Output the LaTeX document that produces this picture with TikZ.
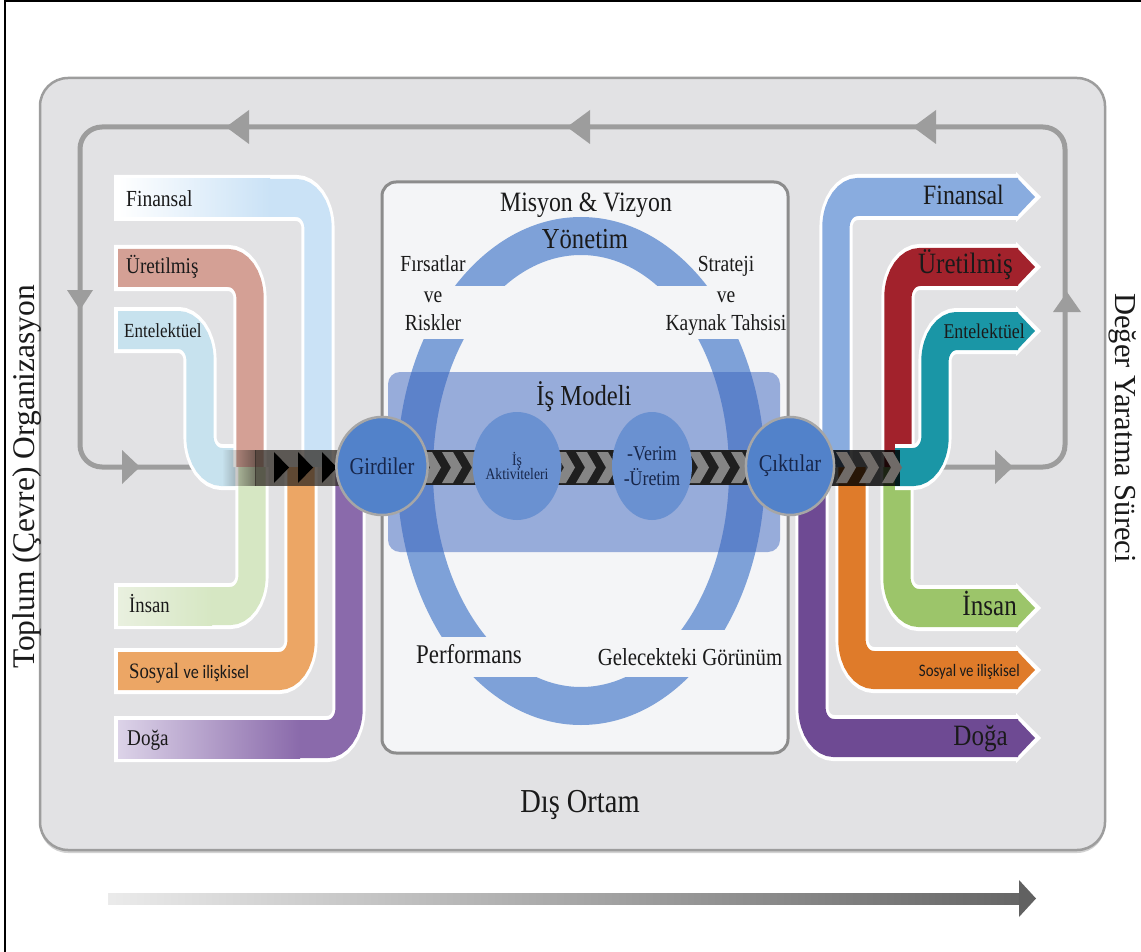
\documentclass[tikz,border=0pt]{standalone}
\usepackage{fontspec}
\setmainfont[FakeStretch=0.85]{Liberation Serif}
\newfontfamily\rotserif{Liberation Serif}
\newfontfamily\sanscal[FakeStretch=0.85]{Carlito}
\usetikzlibrary{fadings,shadows,shapes.geometric}
\newcommand{\fsz}[1]{\fontsize{#1}{#1}\selectfont}
\definecolor{finL}{HTML}{CAE2F6}
\definecolor{uretL}{HTML}{D4A095}
\definecolor{entL}{HTML}{C7E2EE}
\definecolor{insL}{HTML}{D6E7C3}
\definecolor{insLl}{HTML}{E9F0DF}
\definecolor{sosL}{HTML}{ECA665}
\definecolor{dogL}{HTML}{8A6AAB}
\definecolor{dogLl}{HTML}{DCD3E8}
\definecolor{finR}{HTML}{89ACDF}
\definecolor{uretR}{HTML}{A2222C}
\definecolor{entR}{HTML}{1A96A6}
\definecolor{insR}{HTML}{9CC56A}
\definecolor{sosR}{HTML}{DF7B2A}
\definecolor{dogR}{HTML}{6E4A93}
\definecolor{boxbg}{HTML}{F4F5F7}
\definecolor{outerbg}{HTML}{E2E2E4}
\definecolor{ringc}{HTML}{7EA1D8}
\definecolor{modelc}{RGB}{60,100,190}
\definecolor{circA}{HTML}{5282CA}
\definecolor{circB}{HTML}{6A91D1}
\definecolor{loopc}{HTML}{9D9D9D}
\definecolor{txt}{HTML}{1A1A1A}
\definecolor{navy}{HTML}{17264A}
\definecolor{chevc}{HTML}{858585}
\definecolor{chevr}{HTML}{706B68}
\definecolor{lband}{HTML}{2E2822}
\tikzfading[name=fadeinright, left color=transparent!100, right color=transparent!0]
\newcommand{\mychev}[2]{\fill[#2] (#1,452) -- ++(11,0) -- ++(9,15.5) -- ++(-9,15.5) -- ++(-11,0) -- ++(9,-15.5) -- cycle;}
\newcommand{\mytri}[2]{\fill[#2] (#1,452) -- ++(15,15.5) -- ++(-15,15.5) -- cycle;}
\begin{document}
\begin{tikzpicture}[x=1pt,y=-1pt,
  outerbox/.style={fill=outerbg, draw=loopc, line width=2.5, rounded corners=28,
     drop shadow={shadow xshift=0pt, shadow yshift=-3pt, opacity=0.35}},
  loopline/.style={draw=loopc, line width=5, rounded corners=22},
  loophead/.style={fill=loopc},
  wline/.style={draw=white, line width=46, rounded corners=30},
  cline/.style={line width=38, rounded corners=30},
  lbl/.style={text=txt, inner sep=0pt},
  circ/.style={ellipse, inner sep=0pt, text=navy},
  band/.style={fill=black!88}
]
\useasboundingbox (0,0) rectangle (1141,952);
\fill[white] (0,0) rectangle (1141,952);
\draw[line width=2] (5,952) -- (5,1.5) -- (1141,1.5);

% outer grey box
\draw[outerbox] (40,78) rectangle (1105,850);

% value loop
\draw[loopline] (205,467) -- (80,467) -- (80,127) -- (1065,127) -- (1065,467) -- (895,467);
\fill[loophead] (226,127) -- (249,110) -- (249,144) -- cycle;
\fill[loophead] (567,127) -- (590,110) -- (590,144) -- cycle;
\fill[loophead] (913,127) -- (936,110) -- (936,144) -- cycle;
\fill[loophead] (80,310) -- (67,290) -- (93,290) -- cycle;
\fill[loophead] (140,467) -- (122,450) -- (122,484) -- cycle;
\fill[loophead] (1013,467) -- (995,450) -- (995,484) -- cycle;
\fill[loophead] (1067,292) -- (1053,312) -- (1081,312) -- cycle;

% capital streams (horizontally squeezed like the original)
\begin{scope}[transform canvas={xscale=0.72}, x=1.388889pt]
  % ---- inputs, top
  \draw[wline] (114,330) -- (200,330) -- (200,467) -- (262,467);
  \draw[cline, entL] (118,330) -- (200,330) -- (200,467) -- (262,467);
  \draw[wline] (114,268) -- (250,268) -- (250,467);
  \draw[cline, uretL] (118,268) -- (250,268) -- (250,467);
  \draw[wline] (114,198) -- (318,198) -- (318,467);
  \draw[cline, finL] (118,198) -- (318,198) -- (318,467);
  \shade[left color=white, right color=finL] (118,179) rectangle (270,217);
  % ---- inputs, bottom
  \draw[wline] (114,606) -- (252,606) -- (252,467);
  \draw[cline, insL] (118,606) -- (252,606) -- (252,467);
  \shade[left color=insLl, right color=insL] (118,587) rectangle (212,625);
  \draw[wline] (114,671) -- (301,671) -- (301,467);
  \draw[cline, sosL] (118,671) -- (301,671) -- (301,467);
  \draw[wline] (114,739) -- (349,739) -- (349,467);
  \draw[cline, dogL] (118,739) -- (349,739) -- (349,467);
  \shade[left color=dogLl, right color=dogL] (118,720) rectangle (300,758);
  % ---- outputs
  \draw[wline] (812,467) -- (812,738) -- (1018,738);
  \fill[white] (1016,713) -- (1041,738) -- (1016,763) -- cycle;
  \draw[cline, dogR] (812,467) -- (812,738) -- (1018,738);
  \fill[dogR] (1017,719) -- (1035,738) -- (1017,757) -- cycle;
  \draw[wline] (852,467) -- (852,670) -- (1018,670);
  \fill[white] (1016,645) -- (1041,670) -- (1016,695) -- cycle;
  \draw[cline, sosR] (852,467) -- (852,670) -- (1018,670);
  \fill[sosR] (1017,651) -- (1035,670) -- (1017,689) -- cycle;
  \draw[wline] (897,467) -- (897,608) -- (1018,608);
  \fill[white] (1016,583) -- (1041,608) -- (1016,633) -- cycle;
  \draw[cline, insR] (897,467) -- (897,608) -- (1018,608);
  \fill[insR] (1017,589) -- (1035,608) -- (1017,627) -- cycle;
  \draw[wline] (836,467) -- (836,197) -- (1018,197);
  \fill[white] (1016,172) -- (1041,197) -- (1016,222) -- cycle;
  \draw[cline, finR] (836,467) -- (836,197) -- (1018,197);
  \fill[finR] (1017,178) -- (1035,197) -- (1017,216) -- cycle;
  \draw[wline] (898,467) -- (898,267) -- (1018,267);
  \fill[white] (1016,242) -- (1041,267) -- (1016,292) -- cycle;
  \draw[cline, uretR] (898,467) -- (898,267) -- (1018,267);
  \fill[uretR] (1017,248) -- (1035,267) -- (1017,286) -- cycle;
  \draw[wline] (895,467) -- (935,467) -- (935,331) -- (1018,331);
  \fill[white] (1016,306) -- (1041,331) -- (1016,356) -- cycle;
  \draw[cline, entR] (895,467) -- (935,467) -- (935,331) -- (1018,331);
  \fill[entR] (1017,312) -- (1035,331) -- (1017,350) -- cycle;
\end{scope}

% central box
\draw[fill=boxbg, draw=black!45, line width=3, rounded corners=14] (382,182) rectangle (788,753);

% management ring with gaps for the labels
\fill[ringc, even odd rule] (581,471) ellipse [x radius=184, y radius=254]
      (581,471) ellipse [x radius=148, y radius=216];
\fill[boxbg] (395,286) rectangle (505,339);
\fill[boxbg] (657,286) rectangle (775,339);
\fill[boxbg] (428,637) rectangle (540,677);
\fill[boxbg] (622,630) rectangle (745,677);

% business model band
\fill[modelc, fill opacity=0.5, rounded corners=12] (388,372) rectangle (780,552);

% chevron bands
\fill[lband, fill opacity=0.6, path fading=fadeinright] (222,450) rectangle (256,486);
\fill[lband, fill opacity=0.74] (255,450) rectangle (355,486);
\mytri{274}{black}\mytri{298}{black}\mytri{322}{black}
\fill[band] (405,450) rectangle (500,485);
\mychev{421}{chevc}\mychev{442}{chevc}\mychev{463}{chevc}
\fill[band] (540,450) rectangle (630,485);
\mychev{555}{chevc}\mychev{576}{chevc}\mychev{597}{chevc}
\fill[band] (670,450) rectangle (770,485);
\mychev{689}{chevc}\mychev{710}{chevc}\mychev{731}{chevc}
\fill[black, fill opacity=0.82] (815,450) rectangle (900,486);
\mychev{836}{chevr}\mychev{859}{chevr}\mychev{882}{chevr}

% process circles
\node[circ, fill=circA, draw=black!35, line width=2.5, minimum width=78pt, minimum height=98pt,
      font=\fsz{24}] (gir) at (382,466) {Girdiler};
\node[circ, fill=circB, minimum width=70pt, minimum height=108pt,
      font=\fsz{16}, align=center] (akt) at (517,466) {İş\\[-2pt]Aktiviteleri};
\node[circ, fill=circB, minimum width=68pt, minimum height=108pt,
      font=\fsz{21}, align=center] (ver) at (652,466) {-Verim\\[4pt]-Üretim};
\node[circ, fill=circA, draw=black!35, line width=2.5, minimum width=76pt, minimum height=98pt,
      font=\fsz{24}] (cik) at (790,466) {Çıktılar};

% centre texts
\node[lbl, anchor=base, font=\fsz{28}] (misyon) at (586,212) {Misyon \& Vizyon};
\node[lbl, anchor=base, font=\fsz{29}] (yonetim) at (585,249) {Yönetim};
\node[lbl, anchor=base, font=\fsz{23}] (fir1) at (433,272) {Fırsatlar};
\node[lbl, anchor=base, font=\fsz{23}] (fir2) at (433,302) {ve};
\node[lbl, anchor=base, font=\fsz{23}] (fir3) at (433,330) {Riskler};
\node[lbl, anchor=base, font=\fsz{23}] (str1) at (726,272) {Strateji};
\node[lbl, anchor=base, font=\fsz{23}] (str2) at (726,302) {ve};
\node[lbl, anchor=base, font=\fsz{23}] (str3) at (726,330) {Kaynak Tahsisi};
\node[lbl, anchor=base, font=\fsz{29}] (model) at (584,405) {İş Modeli};
\node[lbl, anchor=base, font=\fsz{27}] (perf) at (469,663) {Performans};
\node[lbl, anchor=base, font=\fsz{24.5}] (gelecek) at (690,665) {Gelecekteki Görünüm};
\node[lbl, anchor=base, font=\fsz{33.5}] (dis) at (580,812) {Dış Ortam};

% input labels
\node[lbl, anchor=base west, font=\fsz{23}] (lfin) at (126,207) {Finansal};
\node[lbl, anchor=base west, font=\fsz{22.5}] (luret) at (126,273) {Üretilmiş};
\node[lbl, anchor=base west, font=\fsz{20}] (lent) at (124,337) {Entelektüel};
\node[lbl, anchor=base west, font=\fsz{22}] (lins) at (129,612) {İnsan};
\node[lbl, anchor=base west, font=\fsz{22}] (lsos) at (129,678) {Sosyal {\sanscal\fsz{19}ve ilişkisel}};
\node[lbl, anchor=base west, font=\fsz{22.5}] (ldog) at (127,745) {Doğa};

% output labels
\node[lbl, anchor=base east, font=\fsz{28}] (rfin) at (1004,205) {Finansal};
\node[lbl, anchor=base east, font=\fsz{29.5}] (ruret) at (1013,273) {Üretilmiş};
\node[lbl, anchor=base east, font=\fsz{21}] (rent) at (1025,338) {Entelektüel};
\node[lbl, anchor=base east, font=\fsz{29.5}] (rins) at (1017,615) {İnsan};
\node[lbl, anchor=base east, font=\sanscal\fsz{17.5}] (rsos) at (1020,676) {Sosyal ve ilişkisel};
\node[lbl, anchor=base east, font=\fsz{29.5}] (rdog) at (1008,745) {Doğa};

% side titles
\node[lbl, rotate=90, font=\rotserif\fsz{31.5}] (toplum) at (27,477) {Toplum (Çevre) Organizasyon};
\node[lbl, rotate=-90, font=\rotserif\fsz{30.5}] (deger) at (1123,428) {Değer Yaratma Süreci};

% time arrow
\coordinate (tstart) at (108,898.5);
\coordinate (tend) at (1036,898.5);
\shade[left color=black!8, right color=black!60] (108,893) rectangle (1021,904);
\fill[black!62] (1019,880) -- (tend) -- (1019,917) -- cycle;
\end{tikzpicture}
\end{document}
